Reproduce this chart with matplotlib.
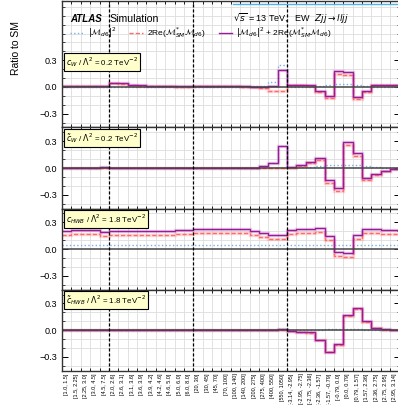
import numpy as np
import matplotlib.pyplot as plt
from matplotlib.lines import Line2D
from matplotlib.ticker import MultipleLocator, FixedLocator

plt.rcParams['font.family'] = ['Liberation Sans', 'DejaVu Sans']
plt.rcParams['mathtext.fontset'] = 'dejavusans'

# --- DATA ---
bin_labels = [
    "[1.0, 1.5]", "[1.5, 2.25]", "[2.25, 3.0]", "[3.0, 4.5]", "[4.5, 7.5]",
    "[2.0, 2.6]", "[2.6, 3.1]", "[3.1, 3.6]", "[3.6, 3.9]", "[3.9, 4.2]",
    "[4.2, 4.6]", "[4.6, 5.0]", "[5.0, 6.0]", "[6.0, 8.0]",
    "[20, 30]", "[30, 45]", "[45, 70]", "[70, 100]", "[100, 140]",
    "[140, 200]", "[200, 275]", "[275, 400]", "[400, 550]", "[550, 1050]",
    "[-3.14, -2.95]", "[-2.95, -2.75]", "[-2.75, -2.36]", "[-2.36, -1.57]",
    "[-1.57, -0.79]", "[-0.79, 0.0]", "[0.0, 0.79]", "[0.79, 1.57]",
    "[1.57, 2.36]", "[2.36, 2.75]", "[2.75, 2.95]", "[2.95, 3.14]",
]
group_bounds = [5, 14, 24]

# c_W
cw_quad = [0.003, 0.003, 0.003, 0.003, 0.003,
           0.004, 0.004, 0.004, 0.004, 0.004, 0.004, 0.004, 0.004, 0.004,
           0.003, 0.003, 0.003, 0.003, 0.004, 0.005, 0.007, 0.012, 0.056, 0.244,
           0.003, 0.003, 0.005, 0.010, 0.020, 0.032, 0.032, 0.020, 0.010, 0.005, 0.003, 0.003]
cw_int = [0.007, 0.007, 0.007, 0.007, 0.009,
          0.046, 0.036, 0.021, 0.016, 0.011, 0.009, 0.006, 0.004, 0.002,
          0.009, 0.009, 0.009, 0.009, 0.006, 0.003, -0.002, -0.017, -0.046, -0.049,
          0.023, 0.023, 0.015, -0.055, -0.125, 0.148, 0.138, -0.130, -0.055, 0.017, 0.019, 0.019]
cw_tot = [0.010, 0.010, 0.010, 0.010, 0.012,
          0.050, 0.040, 0.025, 0.020, 0.015, 0.013, 0.010, 0.008, 0.006,
          0.012, 0.012, 0.012, 0.012, 0.010, 0.008, 0.005, -0.005, 0.010, 0.195,
          0.026, 0.026, 0.020, -0.045, -0.105, 0.180, 0.170, -0.110, -0.045, 0.022, 0.022, 0.022]

# c~_W
cwt_quad = [0.002, 0.002, 0.003, 0.004, 0.006,
            0.004, 0.003, 0.002, 0.002, 0.002, 0.002, 0.002, 0.002, 0.002,
            0.002, 0.002, 0.002, 0.002, 0.002, 0.003, 0.005, 0.019, 0.060, 0.250,
            0.004, 0.006, 0.012, 0.022, 0.030, 0.032, 0.032, 0.030, 0.018, 0.008, 0.005, 0.003]
cwt_int = [0.0, 0.0, 0.0, 0.0, 0.0,
           0.0, 0.0, 0.0, 0.0, 0.0, 0.0, 0.0, 0.0, 0.0,
           0.0, 0.0, 0.0, 0.0, 0.0, 0.0, 0.0, 0.0, 0.0, 0.0,
           0.004, 0.028, 0.058, 0.094, -0.169, -0.261, 0.264, 0.139, -0.130, -0.076, -0.035, -0.014]
cwt_tot = [0.002, 0.002, 0.003, 0.004, 0.006,
           0.004, 0.003, 0.002, 0.002, 0.002, 0.002, 0.002, 0.002, 0.002,
           0.002, 0.002, 0.002, 0.002, 0.002, 0.003, 0.005, 0.019, 0.060, 0.250,
           0.008, 0.034, 0.070, 0.116, -0.139, -0.229, 0.296, 0.169, -0.112, -0.068, -0.030, -0.011]

# c_HWB
chwb_quad = [0.045] * 36
chwb_int = [0.155, 0.173, 0.173, 0.165, 0.150,
            0.160, 0.160, 0.160, 0.160, 0.160, 0.160, 0.160, 0.165, 0.167,
            0.180, 0.180, 0.177, 0.177, 0.177, 0.177, 0.155, 0.131, 0.113, 0.113,
            0.173, 0.184, 0.184, 0.191, 0.105, -0.075, -0.085, 0.113, 0.184, 0.184, 0.173, 0.173]
chwb_tot = [0.200, 0.218, 0.218, 0.210, 0.195,
            0.205, 0.205, 0.205, 0.205, 0.205, 0.205, 0.205, 0.210, 0.212,
            0.225, 0.225, 0.222, 0.222, 0.222, 0.222, 0.200, 0.176, 0.158, 0.158,
            0.218, 0.229, 0.229, 0.236, 0.150, -0.030, -0.040, 0.158, 0.229, 0.229, 0.218, 0.218]

# c~_HWB
chwbt_quad = [0.001, 0.001, 0.001, 0.001, 0.001,
              0.001, 0.001, 0.001, 0.001, 0.001, 0.001, 0.001, 0.001, 0.001,
              0.001, 0.001, 0.001, 0.001, 0.001, 0.001, 0.002, 0.004, 0.006, 0.010,
              0.002, 0.003, 0.004, 0.006, 0.010, 0.012, 0.012, 0.010, 0.006, 0.004, 0.003, 0.002]
chwbt_int = [0.0, 0.0, 0.0, 0.0, 0.0,
             0.0, 0.0, 0.0, 0.0, 0.0, 0.0, 0.0, 0.0, 0.0,
             0.0, 0.0, 0.0, 0.0, 0.0, 0.0, 0.0, 0.0, 0.0, 0.0,
             -0.010, -0.018, -0.030, -0.111, -0.250, -0.172, 0.158, 0.234, 0.094, 0.022, 0.005, 0.000]
chwbt_tot = [0.001, 0.001, 0.001, 0.001, 0.001,
             0.001, 0.001, 0.001, 0.001, 0.001, 0.001, 0.001, 0.001, 0.001,
             0.001, 0.001, 0.001, 0.001, 0.001, 0.001, 0.002, 0.004, 0.006, 0.010,
             -0.008, -0.015, -0.026, -0.105, -0.240, -0.160, 0.170, 0.244, 0.100, 0.026, 0.008, 0.002]

panel_labels = [
    r"$c_W$ / $\Lambda^2$ = 0.2 TeV$^{-2}$",
    r"$\tilde{c}_W$ / $\Lambda^2$ = 0.2 TeV$^{-2}$",
    r"$c_{HWB}$ / $\Lambda^2$ = 1.8 TeV$^{-2}$",
    r"$\tilde{c}_{HWB}$ / $\Lambda^2$ = 1.8 TeV$^{-2}$",
]
panels = [
    (cw_quad, cw_int, cw_tot),
    (cwt_quad, cwt_int, cwt_tot),
    (chwb_quad, chwb_int, chwb_tot),
    (chwbt_quad, chwbt_int, chwbt_tot),
]

# --- STYLE ---
BLUE = '#7ab0e8'
RED = '#ff6b6b'
PURPLE = '#9a1a9a'
ylims = [(-0.455, 0.965), (-0.455, 0.455), (-0.455, 0.455), (-0.455, 0.455)]

edges = np.arange(len(bin_labels) + 1)
centres = edges[:-1] + 0.5

fig = plt.figure(figsize=(3.98, 4.05), dpi=100)
ratios = [hi - lo for lo, hi in ylims]
gs = fig.add_gridspec(4, 1, height_ratios=ratios, hspace=0,
                      left=62 / 398, right=399.5 / 398,
                      top=1 - 1 / 405, bottom=1 - 370.7 / 405)

for i, (quad, inter, tot) in enumerate(panels):
    ax = fig.add_subplot(gs[i])

    # faint bands under the lines
    ax.stairs(inter, edges, baseline=None, color=RED, lw=2.4, alpha=0.25)
    ax.stairs(tot, edges, baseline=None, color=PURPLE, lw=2.4, alpha=0.2)

    ax.stairs(quad, edges, baseline=None, color=BLUE, lw=1.0, linestyle=':')
    ax.stairs(inter, edges, baseline=None, color=RED, lw=1.0, linestyle=(0, (3, 1.5)))
    ax.stairs(tot, edges, baseline=None, color=PURPLE, lw=1.0)

    ax.axhline(0, color='#444444', lw=1.1, zorder=1)
    for b in group_bounds:
        ax.axvline(b, color='black', lw=0.9, linestyle=(0, (2.5, 1.5)), zorder=3)

    ax.set_xlim(0, len(bin_labels))
    ax.set_ylim(*ylims[i])

    ax.xaxis.set_major_locator(FixedLocator(centres))
    ax.xaxis.set_minor_locator(FixedLocator(edges))
    ax.yaxis.set_major_locator(FixedLocator([-0.3, 0.0, 0.3]))
    ax.yaxis.set_minor_locator(MultipleLocator(0.1))
    ax.set_yticklabels(['\u22120.3', '0.0', '0.3'])

    ax.tick_params(axis='x', which='major', length=0, labelsize=4, rotation=90, pad=2)
    ax.tick_params(axis='x', which='minor', direction='in', length=2.5, width=0.6,
                   top=True, bottom=True)
    ax.tick_params(axis='y', which='major', direction='in', length=4, width=0.7,
                   left=True, right=True, labelsize=6.5)
    ax.tick_params(axis='y', which='minor', direction='in', length=2, width=0.5,
                   left=True, right=True)

    ax.grid(True, which='minor', color='#dddddd', lw=0.6, zorder=0)
    ax.set_axisbelow(True)
    for sp in ax.spines.values():
        sp.set_linewidth(1.0)
        sp.set_color('#333333')

    if i < 3:
        ax.set_xticklabels([])
    else:
        ax.set_xticklabels(bin_labels)

    box = dict(boxstyle='square,pad=0.25', facecolor='#ffffcc', edgecolor='black', lw=0.8)
    if i == 0:
        ax.text(0.012, 0.355, panel_labels[i], transform=ax.get_yaxis_transform(),
                ha='left', va='top', fontsize=5.7, bbox=box, zorder=6)
    else:
        ax.text(0.012, 0.955, panel_labels[i], transform=ax.transAxes,
                ha='left', va='top', fontsize=5.7, bbox=box, zorder=6)

# header texts
fig.text(16 / 398, 1 - 48 / 405, 'Ratio to SM', rotation=90, ha='center', va='center', fontsize=7.5)
fig.text(70 / 398, 1 - 19 / 405, 'ATLAS', fontsize=7, weight='bold', style='italic', va='center')
fig.text(109 / 398, 1 - 19 / 405, 'Simulation', fontsize=7.6, va='center')
fig.text(233 / 398, 1 - 19 / 405, r"$\sqrt{s}$ = 13 TeV,   EW  $Zjj \rightarrow lljj$",
         fontsize=6.5, va='center')

handles = [Line2D([], [], color=BLUE, lw=1.0, linestyle=':'),
           Line2D([], [], color=RED, lw=1.0, linestyle=(0, (3, 1.5))),
           Line2D([], [], color=PURPLE, lw=1.0)]
labels = [r"$|\mathcal{M}_{d6}|^2$",
          r"2Re($\mathcal{M}_{SM}^{*}\mathcal{M}_{d6}$)",
          r"$|\mathcal{M}_{d6}|^2$ + 2Re($\mathcal{M}_{SM}^{*}\mathcal{M}_{d6}$)"]
fig.legend(handles, labels, loc='center left', bbox_to_anchor=(70 / 398, 1 - 33 / 405),
           ncol=3, frameon=False, fontsize=6.0, handlelength=1.6, handletextpad=0.5,
           columnspacing=1.6, borderpad=0, borderaxespad=0)

# strip along the very top of the crop
fig.add_artist(Line2D([233 / 398, 1.0], [1 - 4 / 405, 1 - 4 / 405], color='#4fb3e8', lw=1.0))

fig.savefig('out.png', dpi=100)
